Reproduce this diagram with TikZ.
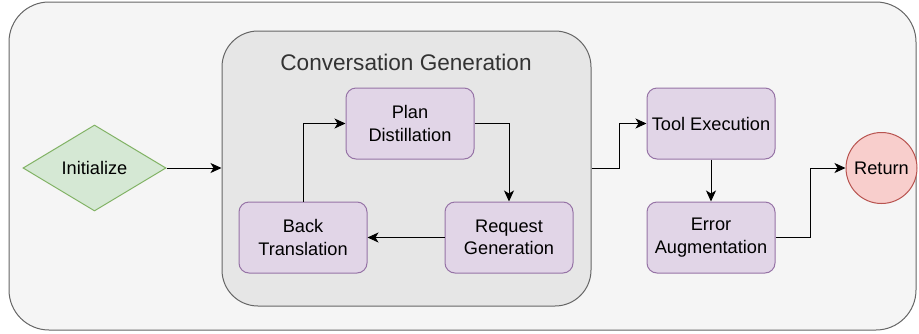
\documentclass[tikz,border=0pt]{standalone}
\usepackage{fontspec}
\setmainfont{Liberation Sans}
\usetikzlibrary{shapes.geometric,arrows.meta}
\definecolor{outerfill}{HTML}{F5F5F5}
\definecolor{greyline}{HTML}{666666}
\definecolor{convfill}{HTML}{E6E6E6}
\definecolor{titlecol}{HTML}{333333}
\definecolor{purfill}{HTML}{E1D5E7}
\definecolor{purline}{HTML}{9673A6}
\definecolor{grnfill}{HTML}{D5E8D4}
\definecolor{grnline}{HTML}{82B366}
\definecolor{redfill}{HTML}{F8CECC}
\definecolor{redline}{HTML}{B85450}
\tikzset{
  stepbox/.style={draw=purline, fill=purfill, line width=1pt, rounded corners=10pt,
    minimum width=128pt, minimum height=71pt, inner sep=0pt, align=center,
    font=\fontsize{18.2}{22.5}\selectfont},
  conn/.style={draw=black, line width=1pt,
    -{Stealth[length=11pt,width=10pt,inset=3pt]}},
}
\begin{document}
\begin{tikzpicture}[x=1pt,y=-1pt]
\useasboundingbox (0,0) rectangle (919,333);
% outer container
\node[draw=greyline, fill=outerfill, line width=1pt, rounded corners=40pt,
  minimum width=907pt, minimum height=328pt, inner sep=0pt] (outer) at (462.5,166) {};
% conversation generation group
\node[draw=greyline, fill=convfill, line width=1pt, rounded corners=36pt,
  minimum width=369pt, minimum height=275pt, inner sep=0pt] (conv) at (406.5,168.5) {};
\node[text=titlecol, font=\fontsize{22.6}{26}\selectfont, inner sep=0pt] (title) at (406,62) {Conversation Generation};
% steps
\node[stepbox] (plan) at (410,123.5) {Plan\\Distillation};
\node[stepbox] (back) at (303,237.5) {Back\\Translation};
\node[stepbox] (req) at (509,237.5) {Request\\Generation};
\node[stepbox] (tool) at (711,123.5) {Tool Execution};
\node[stepbox] (err) at (711,237.5) {Error\\Augmentation};
% initialize and return
\node[diamond, draw=grnline, fill=grnfill, line width=1pt, inner sep=0pt,
  minimum width=143pt, minimum height=86pt, shape aspect=1.66,
  font=\fontsize{18.2}{22.5}\selectfont] (init) at (94.5,168) {Initialize};
\node[circle, draw=redline, fill=redfill, line width=1pt, inner sep=0pt,
  minimum size=71pt, font=\fontsize{18.2}{22.5}\selectfont] (ret) at (881.5,168) {Return};
% connectors
\draw[conn] (init.east) -- (conv.west |- init.east);
\draw[conn] (back.north) |- (plan.west);
\draw[conn] (plan.east) -| (req.north);
\draw[conn] (req.west) -- (back.east);
\draw[conn] (conv.east) -- ++(28,0) |- (tool.west);
\draw[conn] (tool.south) -- (err.north);
\draw[conn] (err.east) -- ++(35,0) |- (ret.west);
\end{tikzpicture}
\end{document}
